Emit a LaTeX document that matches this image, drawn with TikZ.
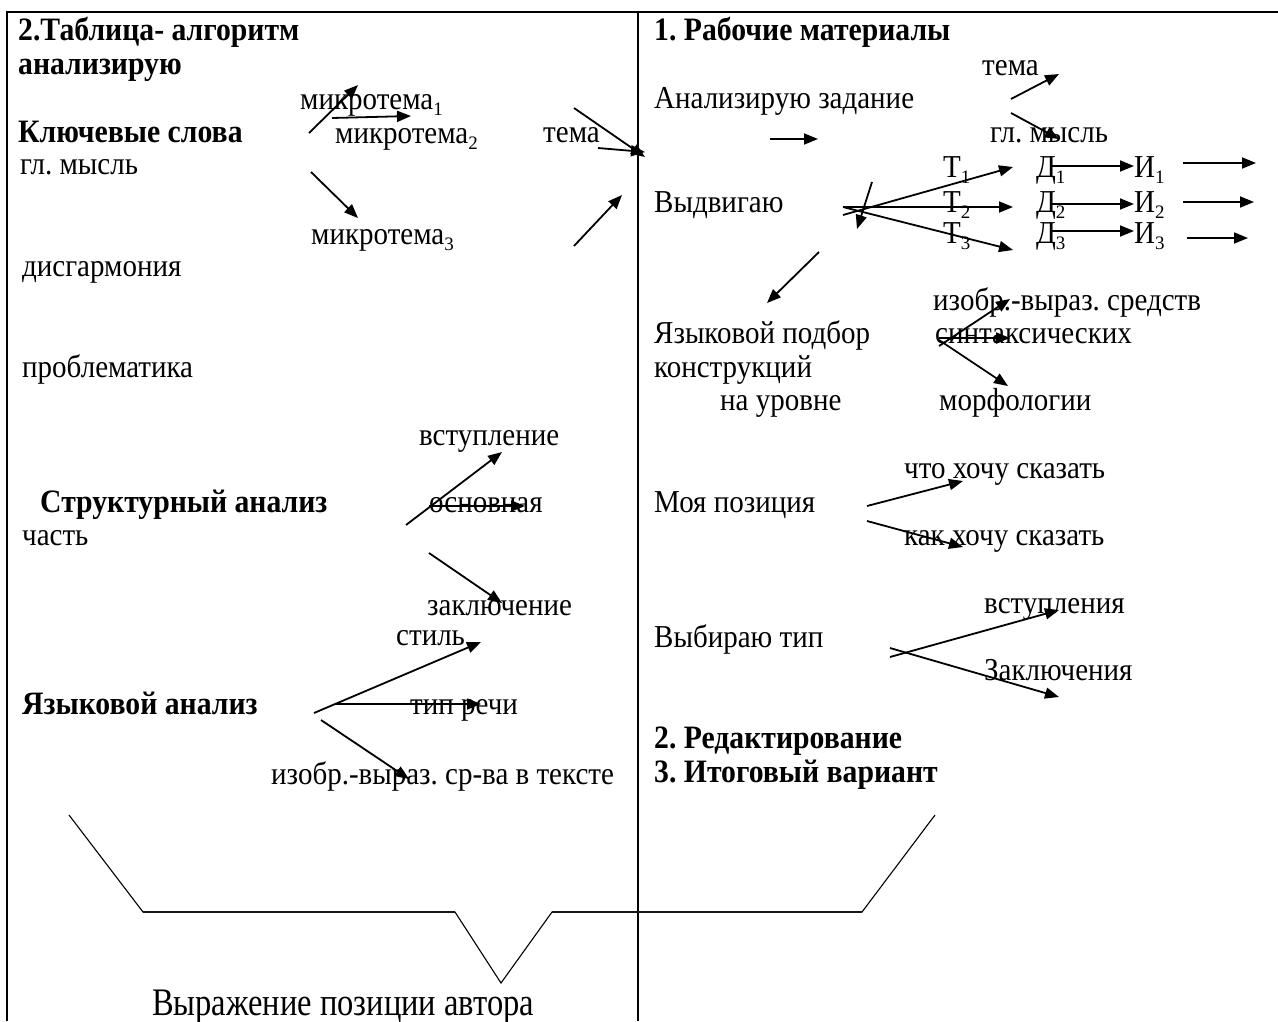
\documentclass[tikz,border=0pt]{standalone}
\usepackage{fontspec}
\usepackage{graphicx}
\setmainfont{Liberation Serif}
\usetikzlibrary{arrows.meta}
\frenchspacing
\newcommand{\lowidx}[1]{\raisebox{-0.22em}{\fontsize{19}{19}\selectfont #1}}
\newcommand{\vs}[1]{\scalebox{1}[1.1]{#1}}
\begin{document}
\begin{tikzpicture}[x=1pt,y=-1pt,
  txt/.style={anchor=base west,inner sep=0pt,font=\fontsize{29}{34}\selectfont},
  btxt/.style={anchor=base west,inner sep=0pt,font=\fontsize{29.7}{34}\selectfont\bfseries},
  bigtxt/.style={anchor=base west,inner sep=0pt,font=\fontsize{32.5}{38}\selectfont},
  arr/.style={line width=1.8pt,-{Triangle[length=14pt,width=11pt]}},
  frame/.style={line width=2.4pt},
  divider/.style={line width=1.6pt},
  slant/.style={line width=1.1pt},
  flat/.style={line width=2.2pt,black!75}]
\useasboundingbox (0,0) rectangle (1278,1021);
% frame
\coordinate (fbl) at (7,1021);
\coordinate (ftl) at (7,12);
\coordinate (ftr) at (1278,12);
\coordinate (dtop) at (638,12);
\coordinate (dbot) at (638,1021);
\draw[frame] (fbl) -- (ftl) -- (ftr);
\draw[divider] (dtop) -- (dbot);
% funnel
\coordinate (f1) at (69,815);
\coordinate (f2) at (143,912);
\coordinate (f3) at (455,912);
\coordinate (f4) at (501,983);
\coordinate (f5) at (552,912);
\coordinate (f6) at (862,912);
\coordinate (f7) at (935,815);
\draw[flat] (f2) -- (f3);
\draw[flat] (f5) -- (f6);
\draw[slant] (f1) -- (f2) -- (f3) -- (f4) -- (f5) -- (f6) -- (f7);

% ---------- left column ----------
\node[btxt] (l1) at (18,40) {\vs{2.Таблица- алгоритм}};
\node[btxt] (l2) at (18,74) {\vs{анализирую}};
\node[txt] (mt1) at (300,109) {\vs{микротема}\lowidx{1}};
\node[btxt] (kw) at (18,142) {\vs{Ключевые слова}};
\node[txt] (mt2) at (335,143) {\vs{микротема}\lowidx{2}};
\node[txt] (tema) at (543,142) {\vs{тема}};
\node[txt] (gm) at (20,174) {\vs{гл. мысль}};
\node[txt] (mt3) at (311,244) {\vs{микротема}\lowidx{3}};
\node[txt] (dis) at (22,276) {\vs{дисгармония}};
\node[txt] (prob) at (22,377) {\vs{проблематика}};
\node[txt] (vst) at (419,445) {\vs{вступление}};
\node[btxt] (str) at (40,512) {\vs{Структурный анализ}};
\node[txt] (osn) at (429,512) {\vs{основная}};
\node[txt] (chast) at (22,545) {\vs{часть}};
\node[txt] (zakl) at (427,615) {\vs{заключение}};
\node[txt] (stil) at (396,645) {\vs{стиль}};
\node[btxt] (yaz) at (22,714) {\vs{Языковой анализ}};
\node[txt] (tip) at (410,714) {\vs{тип речи}};
\node[txt] (izl) at (271,784) {\vs{изобр.-выраз. ср-ва в тексте}};
\node[bigtxt] (vyr) at (152,1015) {\scalebox{1}[1.2]{Выражение позиции автора}};

% left arrows
\coordinate (a1s) at (309,133); \coordinate (a1e) at (358,85);
\coordinate (a2s) at (332,118); \coordinate (a2e) at (411,116);
\coordinate (a3s) at (311,172); \coordinate (a3e) at (358,218);
\coordinate (a4s) at (574,108); \coordinate (a4e) at (645,157);
\coordinate (a5s) at (598,148); \coordinate (a5e) at (645,152);
\coordinate (a6s) at (574,246); \coordinate (a6e) at (622,195);
\coordinate (b1s) at (406,525); \coordinate (b1e) at (502,452);
\coordinate (b2s) at (429,506); \coordinate (b2e) at (525,506);
\coordinate (b3s) at (429,553); \coordinate (b3e) at (502,603);
\coordinate (c1s) at (314,713); \coordinate (c1e) at (481,642);
\coordinate (c2s) at (335,704); \coordinate (c2e) at (481,704);
\coordinate (c3s) at (321,720); \coordinate (c3e) at (409,779);
\foreach \p in {a1,a2,a3,a4,a5,a6,b1,b2,b3,c1,c2,c3}
  \draw[arr] (\p s) -- (\p e);

% ---------- right column ----------
\node[btxt] (r1) at (654,40) {\vs{1. Рабочие материалы}};
\node[txt] (rtema) at (982,75) {\vs{тема}};
\node[txt] (anz) at (654,108) {\vs{Анализирую задание}};
\node[txt] (rgm) at (990,142) {\vs{гл. мысль}};
\node[txt] (t1) at (943,177) {\vs{Т}\lowidx{1}};
\node[txt] (d1) at (1036,177) {\vs{Д}\lowidx{1}};
\node[txt] (i1) at (1134,177) {\vs{И}\lowidx{1}};
\node[txt] (vydv) at (654,212) {\vs{Выдвигаю}};
\node[txt] (t2) at (943,212) {\vs{Т}\lowidx{2}};
\node[txt] (d2) at (1036,212) {\vs{Д}\lowidx{2}};
\node[txt] (i2) at (1134,212) {\vs{И}\lowidx{2}};
\node[txt] (t3) at (943,243) {\vs{Т}\lowidx{3}};
\node[txt] (d3) at (1036,243) {\vs{Д}\lowidx{3}};
\node[txt] (i3) at (1134,243) {\vs{И}\lowidx{3}};
\node[txt] (izr) at (933,310) {\vs{изобр.-выраз. средств}};
\node[txt] (podb) at (654,343) {\vs{Языковой подбор}};
\node[txt] (sint) at (935,343) {\vs{синтаксических}};
\node[txt] (konst) at (654,377) {\vs{конструкций}};
\node[txt] (urov) at (720,410) {\vs{на уровне}};
\node[txt] (morf) at (939,410) {\vs{морфологии}};
\node[txt] (chto) at (904,478) {\vs{что хочу сказать}};
\node[txt] (moya) at (654,512) {\vs{Моя позиция}};
\node[txt] (kak) at (904,545) {\vs{как хочу сказать}};
\node[txt] (vstr) at (984,613) {\vs{вступления}};
\node[txt] (vyb) at (654,647) {\vs{Выбираю тип}};
\node[txt] (zakr) at (984,680) {\vs{Заключения}};
\node[btxt] (red) at (654,748) {\vs{2. Редактирование}};
\node[btxt] (itog) at (654,782) {\vs{3. Итоговый вариант}};

% right arrows
\coordinate (e1s) at (770,139); \coordinate (e1e) at (818,139);
\coordinate (e2s) at (1011,99); \coordinate (e2e) at (1059,74);
\coordinate (e3s) at (1011,113); \coordinate (e3e) at (1059,139);
\coordinate (g1s) at (843,215); \coordinate (g1e) at (1013,167);
\coordinate (g2s) at (843,207); \coordinate (g2e) at (1013,207);
\coordinate (g3s) at (843,207); \coordinate (g3e) at (1013,250);
\coordinate (g4s) at (872,182); \coordinate (g4e) at (857,229);
\coordinate (h1s) at (1050,166); \coordinate (h1e) at (1134,166);
\coordinate (h2s) at (1050,204); \coordinate (h2e) at (1134,204);
\coordinate (h3s) at (1050,231); \coordinate (h3e) at (1134,231);
\coordinate (k1s) at (1183,163); \coordinate (k1e) at (1256,163);
\coordinate (k2s) at (1183,202); \coordinate (k2e) at (1254,202);
\coordinate (k3s) at (1187,238); \coordinate (k3e) at (1248,238);
\coordinate (m0s) at (819,252); \coordinate (m0e) at (767,303);
\coordinate (m1s) at (939,346); \coordinate (m1e) at (1010,299);
\coordinate (m2s) at (939,338); \coordinate (m2e) at (1010,338);
\coordinate (m3s) at (939,340); \coordinate (m3e) at (1008,386);
\coordinate (n1s) at (867,506); \coordinate (n1e) at (963,481);
\coordinate (n2s) at (867,521); \coordinate (n2e) at (963,547);
\coordinate (p1s) at (890,657); \coordinate (p1e) at (1059,610);
\coordinate (p2s) at (890,648); \coordinate (p2e) at (1059,697);
\foreach \p in {e1,e2,e3,g1,g2,g3,g4,h1,h2,h3,k1,k2,k3,m0,m1,m2,m3,n1,n2,p1,p2}
  \draw[arr] (\p s) -- (\p e);
\end{tikzpicture}
\end{document}
